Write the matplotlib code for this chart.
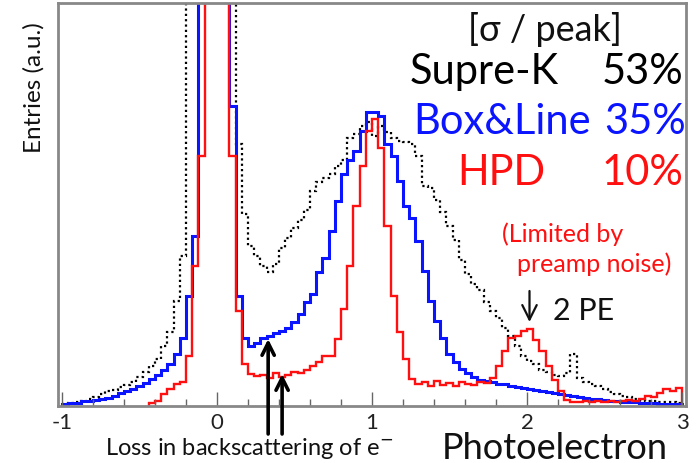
import numpy as np
import matplotlib.pyplot as plt

plt.rcParams['font.family'] = ['Lato', 'DejaVu Sans']

# histogram binning (photoelectron units)
edges = np.linspace(-1.0, 3.0, 101)

# Supre-K (black dotted), heights in arbitrary units; values above 403 are off scale
supre_k = [2, 3, 4, 5, 7, 9, 12, 15, 16, 19,
           21, 24, 29, 34, 40, 47, 60, 74, 105, 150,
           600, 700, 900, 1200, 1500, 1500, 1300, 1000, 262, 192,
           160, 150, 140, 134, 142, 158, 168, 178, 186, 196,
           215, 224, 228, 232, 240, 246, 268, 272, 280, 284,
           270, 280, 274, 268, 265, 264, 262, 250, 220, 218,
           206, 194, 180, 166, 146, 132, 122, 116, 104, 95,
           88, 78, 70, 60, 50, 45, 42, 36, 34, 31,
           30, 33, 52, 28, 24, 22, 20, 17, 14, 12,
           10, 9, 7, 6, 5, 5, 4, 4, 4, 3]

box_line = [2, 3, 3, 5, 5, 6, 7, 8, 10, 13,
            15, 17, 20, 23, 27, 31, 36, 42, 52, 68,
            110, 170, 450, 900, 1200, 1300, 1000, 300, 110, 68,
            60, 63, 68, 70, 73, 75, 78, 84, 92, 104,
            112, 134, 148, 175, 205, 232, 246, 255, 275, 294,
            294, 290, 262, 250, 225, 200, 188, 165, 135, 105,
            85, 68, 52, 44, 37, 33, 29, 26, 25, 24,
            22, 22, 20, 19, 18, 17, 16, 15, 14, 13,
            12, 11, 10, 9, 8, 7, 7, 6, 5, 5,
            4, 4, 4, 3, 3, 3, 2, 2, 2, 2]

hpd = [0, 0, 0, 0, 0, 0, 0, 0, 0, 0,
       0, 0, 0, 0, 3, 5, 12, 17, 22, 24,
       50, 140, 250, 500, 1000, 1100, 600, 250, 95, 42,
       32, 30, 31, 28, 33, 29, 31, 34, 33, 36,
       40, 44, 50, 50, 67, 97, 140, 200, 240, 275,
       287, 258, 180, 110, 74, 47, 27, 22, 24, 20,
       25, 21, 23, 20, 24, 22, 21, 24, 23, 28,
       40, 55, 68, 70, 75, 77, 66, 55, 40, 26,
       15, 6, 4, 4, 5, 4, 5, 4, 5, 4,
       5, 6, 5, 7, 10, 9, 13, 17, 15, 18]
hpd_start = 14

BLUE = '#0a14ff'
RED = '#ff1010'
INK = '#111111'

fig = plt.figure(figsize=(6.99, 4.64), dpi=100)
W, H = 699, 464
ax = fig.add_axes([58 / W, 1 - 407 / H, (686 - 58) / W, (407 - 4) / H])

ax.stairs(supre_k, edges, color='black', lw=1.6, linestyle=(0, (1, 1.4)), baseline=None)
ax.stairs(box_line, edges, color=BLUE, lw=2.2)
ax.stairs(hpd[hpd_start:], edges[hpd_start:], color=RED, lw=1.7)

ax.set_xlim(-1.026, 3.026)
ax.set_ylim(0, 403)
ax.set_xticks([-1, 0, 1, 2, 3])
ax.set_xticks(np.arange(-1, 3.01, 0.2), minor=True)
ax.set_xticklabels(['-1', '0', '1', '2', '3'], fontsize=16, color='#222222')
ax.tick_params(axis='x', which='major', direction='in', length=10, width=1, color='#666666', pad=4)
ax.tick_params(axis='x', which='minor', direction='in', length=5, width=1, color='#666666')
ax.set_yticks([])
for s in ax.spines.values():
    s.set_color('#888888')
    s.set_linewidth(2)

# arrows pointing at the backscattering shoulder
for xa, ya in [(0.33, 67), (0.42, 32)]:
    ax.annotate('', xy=(xa, ya), xytext=(xa, -28), annotation_clip=False,
                arrowprops=dict(arrowstyle='->', color='black', lw=2.6,
                                mutation_scale=22, shrinkA=0, shrinkB=0))


def ftext(x, y, s, **kw):
    fig.text(x / W, 1 - y / H, s, va='baseline', **kw)


ftext(468, 41, '[σ / peak]', fontsize=26, color=INK)
ftext(410, 84, 'Supre-K', fontsize=30, color='black')
ftext(602, 84, '53%', fontsize=30, color='black')
ftext(413, 134, 'Box&Line', fontsize=30, color=BLUE)
ftext(604, 134, '35%', fontsize=30, color=BLUE)
ftext(457, 185, 'HPD', fontsize=30, color=RED)
ftext(602, 185, '10%', fontsize=30, color=RED)
ftext(502, 242, '(Limited by', fontsize=18, color=RED)
ftext(517, 272, 'preamp noise)', fontsize=18, color=RED)
ftext(553, 320, '2 PE', fontsize=22, color=INK)
# arrow for the 2 PE peak, drawn in figure coordinates
ax.annotate('', xy=(529.5 / W, 1 - 323 / H), xytext=(529.5 / W, 1 - 292 / H),
            xycoords='figure fraction', textcoords='figure fraction',
            arrowprops=dict(arrowstyle='->', color=INK, lw=1.6, mutation_scale=26,
                            shrinkA=0, shrinkB=0))
ftext(105, 455, 'Loss in backscattering of e$^{-}$', fontsize=17, color=INK)
ftext(442, 459, 'Photoelectron', fontsize=26, color=INK)
fig.text(34 / W, 1 - 88 / H, 'Entries (a.u.)', rotation=90, fontsize=17.5,
         color=INK, ha='center', va='center')

fig.savefig('out.png', dpi=100)
